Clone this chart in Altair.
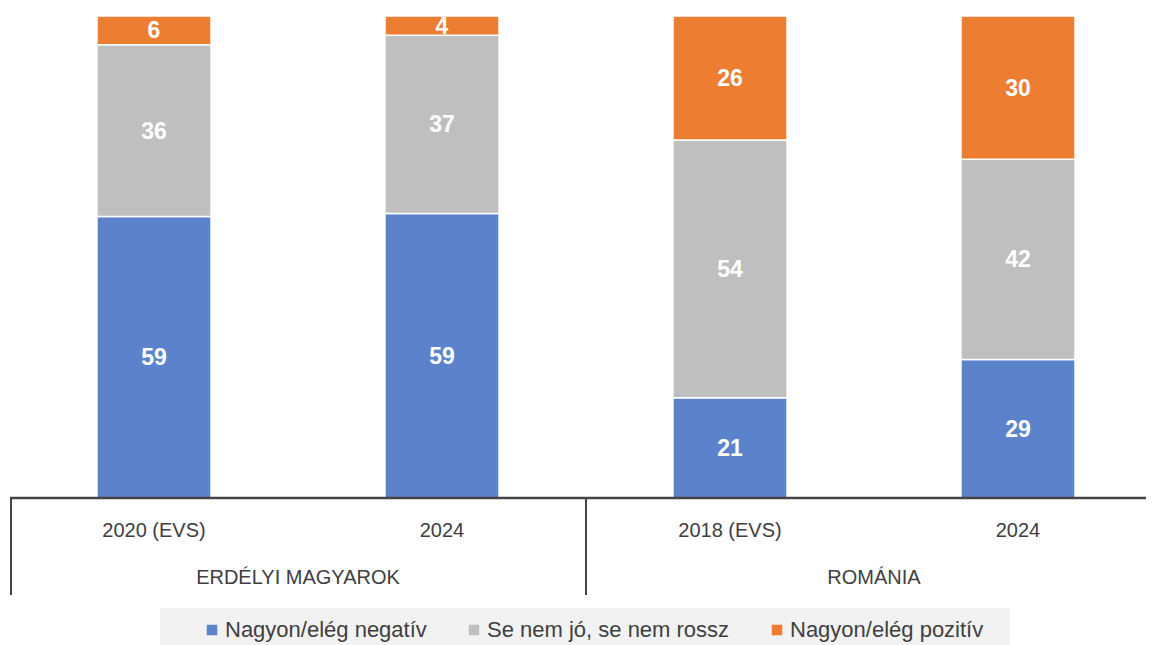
import altair as alt
import pandas as pd

# ---- data ----
keys = ["EM 2020", "EM 2024", "RO 2018", "RO 2024"]
cat_labels = ["2020 (EVS)", "2024", "2018 (EVS)", "2024"]
groups = ["ERDÉLYI MAGYAROK", "ERDÉLYI MAGYAROK", "ROMÁNIA", "ROMÁNIA"]
series = ["Nagyon/elég negatív", "Se nem jó, se nem rossz", "Nagyon/elég pozitív"]
neg = [59, 59, 21, 29]
neutral = [36, 37, 54, 42]
pos = [6, 4, 26, 30]
colors = ["#5b83cb", "#bfbfbf", "#ed7d31"]

rows = []
for i, k in enumerate(keys):
    for j, (s, vals) in enumerate(zip(series, [neg, neutral, pos])):
        rows.append({"key": k, "label": cat_labels[i], "group": groups[i],
                     "series": s, "ord": j, "value": vals[i]})
df = pd.DataFrame(rows)
cats_df = pd.DataFrame({"key": keys, "label": cat_labels, "group": groups})

FONT = "Liberation Sans"
AX = "#404040"

xscale = alt.Scale(domain=keys, range=[2, 1154], paddingInner=0.604, paddingOuter=0.302)
yscale = alt.Scale(domain=[0, 1])

base = alt.Chart(df)

bars = base.mark_bar(stroke="white", strokeWidth=1.5).encode(
    x=alt.X("key:N", scale=xscale, axis=None, sort=keys),
    y=alt.Y("value:Q", stack="normalize", scale=yscale, axis=None),
    color=alt.Color("series:N", sort=series,
                    scale=alt.Scale(domain=series, range=colors),
                    legend=alt.Legend(orient="none", legendX=193, legendY=603,
                                      direction="horizontal", columns=3, title=None,
                                      symbolType="square", symbolSize=110,
                                      symbolStrokeWidth=0, labelFontSize=22,
                                      labelFont=FONT, labelColor=AX,
                                      columnPadding=36, labelOffset=2, padding=0,
                                      labelLimit=400)),
    order=alt.Order("ord:Q", sort="ascending"),
)

labels = base.transform_joinaggregate(
    total="sum(value)", groupby=["key"]
).transform_window(
    cum="sum(value)", groupby=["key"], sort=[alt.SortField("ord", order="ascending")],
    frame=[None, 0]
).transform_calculate(
    mid="(datum.cum - datum.value/2)/datum.total"
).mark_text(color="white", fontWeight="bold", fontSize=23, font=FONT, baseline="middle", dy=1).encode(
    x=alt.X("key:N", scale=xscale, axis=None, sort=keys),
    y=alt.Y("mid:Q", scale=yscale, axis=None),
    text="value:Q",
)

cat_text = alt.Chart(cats_df).mark_text(fontSize=20, font=FONT, color=AX, baseline="middle").encode(
    x=alt.X("key:N", scale=xscale, axis=None, sort=keys),
    y=alt.value(515),
    text="label:N",
)

grp_df = pd.DataFrame({"group": ["ERDÉLYI MAGYAROK", "ROMÁNIA"]})
grp1 = alt.Chart(grp_df.iloc[[0]]).mark_text(fontSize=20, font=FONT, color=AX, baseline="middle").encode(
    x=alt.value(290), y=alt.value(562), text="group:N")
grp2 = alt.Chart(grp_df.iloc[[1]]).mark_text(fontSize=20, font=FONT, color=AX, baseline="middle").encode(
    x=alt.value(866), y=alt.value(562), text="group:N")

axis_line = alt.Chart(cats_df.iloc[[0]]).mark_rule(color="#454545", strokeWidth=2.5).encode(
    x=alt.value(2), x2=alt.value(1138), y=alt.value(482))
sep1 = alt.Chart(cats_df.iloc[[0]]).mark_rule(color="#454545", strokeWidth=2).encode(
    x=alt.value(3), y=alt.value(482), y2=alt.value(579))
sep2 = alt.Chart(cats_df.iloc[[0]]).mark_rule(color="#454545", strokeWidth=2).encode(
    x=alt.value(578), y=alt.value(482), y2=alt.value(579))

legend_bg = alt.Chart(cats_df.iloc[[0]]).mark_rect(color="#f2f2f2").encode(
    x=alt.value(152), x2=alt.value(1002), y=alt.value(592), y2=alt.value(640))

chart = alt.layer(
    legend_bg, bars, labels, cat_text, grp1, grp2, axis_line, sep1, sep2
).properties(
    width=1138, height=482,
    background="white",
    autosize=alt.AutoSizeParams(type="none"),
    padding={"left": 0, "top": 8, "right": 0, "bottom": 147},
).configure_view(strokeWidth=0, stroke="transparent")

chart.save("out.html", embed_options={"renderer": "svg", "actions": False})
